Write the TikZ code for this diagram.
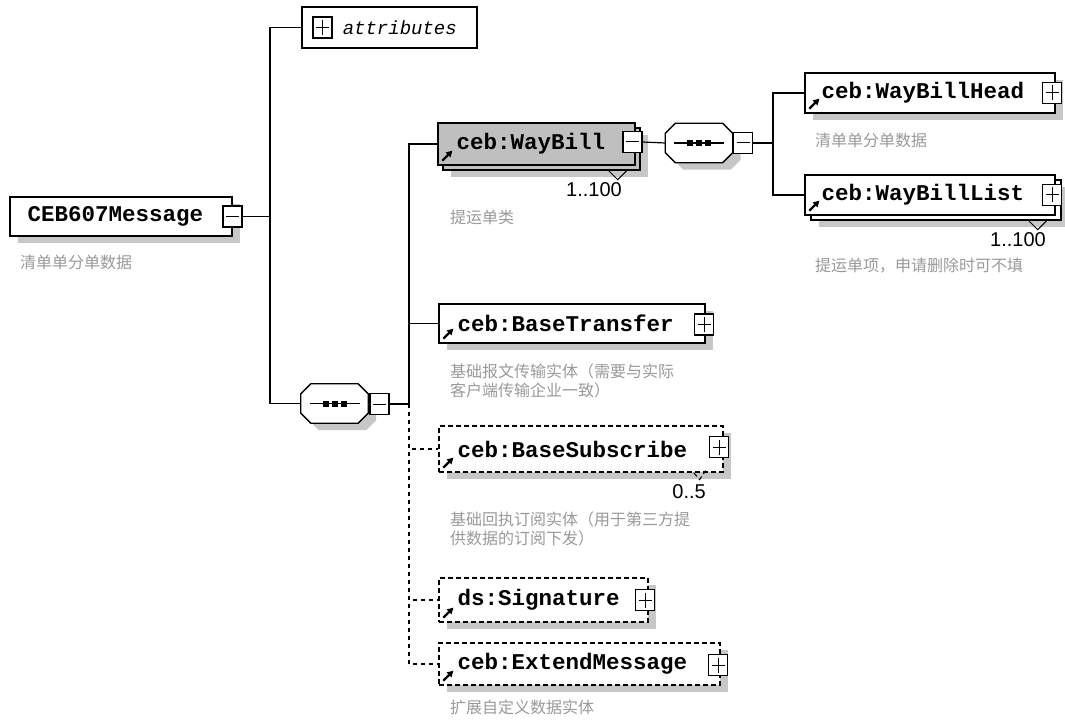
\documentclass[tikz,border=0pt]{standalone}
\usepackage{fontspec}
\setmonofont{Liberation Mono}
\newfontfamily\cjk{Noto Sans CJK SC}
\newfontfamily\numfont{Liberation Sans}
\usetikzlibrary{positioning,shadows,arrows.meta}

\begin{document}
\begin{tikzpicture}[x=1pt, y=-1pt,
    elem/.style = {draw, line width=1.3pt, fill=white, inner sep=0, drop shadow={shadow xshift=8pt, shadow yshift=-7pt, fill=black!22, opacity=1}},
    plain/.style = {draw, line width=1.3pt, fill=white, inner sep=0},
    opt/.style = {dash pattern=on 5pt off 3pt},
    seqbox/.style = {minimum width=67, minimum height=39, inner sep=0},
    signbox/.style = {draw, line width=1.1pt, fill=white, minimum width=19, minimum height=21, inner sep=0},
    minusbox/.style = {signbox,
        path picture={\draw[line width=1pt] ([xshift=3]path picture bounding box.west) -- ([xshift=-3]path picture bounding box.east);}},
    plusbox/.style = {signbox,
        path picture={\draw[line width=1pt] ([xshift=3]path picture bounding box.west) -- ([xshift=-3]path picture bounding box.east)
            ([yshift=-3]path picture bounding box.north) -- ([yshift=3]path picture bounding box.south);}},
    tag/.style = {font=\ttfamily\bfseries\fontsize{22.5}{24}\selectfont, inner sep=0},
    note/.style = {font=\cjk\fontsize{16}{19}\selectfont, text=black!40, inner sep=0, anchor=west, align=left},
    mult/.style = {font=\numfont\fontsize{20}{22}\selectfont, inner sep=0, anchor=east},
    line/.style = {line width=1.2pt},
    ref/.style = {-{Triangle[length=6pt,width=6.5pt]}, line width=2.2pt}]
    \useasboundingbox (0,0) rectangle (1065,722);
    % root element
    \node[elem, minimum width=222, minimum height=39] (ceb) at (121,216.5) {};
    \node[tag, right=18pt of ceb.west] (cebtxt) {CEB607Message};
    \node[minusbox] (cebmin) at (232.5,216.5) {};
    \node[note] (cebnote) at (20,262) {清单单分单数据};
    % attributes
    \node[plain, minimum width=175, minimum height=41] (attr) at (389.5,27.5) {};
    \node[plusbox] (attrplus) at (322.5,27.5) {};
    \node[tag, font=\ttfamily\itshape\fontsize{19}{21}\selectfont, right=10pt of attrplus] (attrtxt) {attributes};
    % sequences
    \node[seqbox] (seqa) at (334.5,403.5) {};
    \node[seqbox] (seqb) at (699,143) {};
    \foreach \s in {seqa,seqb} {
        \draw[line width=1.3pt, fill=white, drop shadow={shadow xshift=8pt, shadow yshift=-7pt, fill=black!22, opacity=1}]
            ([xshift=10]\s.north west) -- ([xshift=-10]\s.north east) -- ([yshift=-10]\s.north east)
            -- ([yshift=10]\s.south east) -- ([xshift=-10]\s.south east) -- ([xshift=10]\s.south west)
            -- ([yshift=10]\s.south west) -- ([yshift=-10]\s.north west) -- cycle;
        \draw[line] ([xshift=-25]\s.center) -- ([xshift=25]\s.center);
        \foreach \dx in {-9,0,9}
            \fill ([xshift=\dx-3, yshift=-3]\s.center) rectangle ([xshift=\dx+3, yshift=3]\s.center);
    }
    \node[minusbox] (seqamin) at (379.5,404) {};
    \node[minusbox] (seqbmin) at (743,143) {};
    % WayBill, 1..100
    \node[elem, fill=black!25, minimum width=197, minimum height=42] (wbback) at (541.5,149) {};
    \node[plain, fill=black!25, minimum width=197, minimum height=42] (waybill) at (536.5,144) {};
    \node[tag, right=19pt of waybill.west] (wbtxt) {ceb:WayBill};
    \node[minusbox] (wbmin) at (632.5,142) {};
    \draw[line width=1pt] ([xshift=-32]wbback.south east) -- ++(9,9) -- ++(9,-9);
    \node[mult] (wbmult) at (622,190) {1..100};
    \node[note] (wbnote) at (450,217) {提运单类};
    % WayBillHead
    \node[elem, minimum width=250, minimum height=40] (head) at (930,93) {};
    \node[tag, right=17pt of head.west] (headtxt) {ceb:WayBillHead};
    \node[plusbox] (headplus) at (1052,93) {};
    \node[note] (headnote) at (815,140) {清单单分单数据};
    % WayBillList, 1..100
    \node[elem, minimum width=250, minimum height=40] (listback) at (936,200) {};
    \node[plain, minimum width=250, minimum height=40] (list) at (930,195) {};
    \node[tag, right=17pt of list.west] (listtxt) {ceb:WayBillList};
    \node[plusbox] (listplus) at (1052,195) {};
    \draw[line width=1pt] ([xshift=-33]listback.south east) -- ++(9,9) -- ++(9,-9);
    \node[mult] (listmult) at (1046,240) {1..100};
    \node[note] (listnote) at (815,266) {提运单项，申请删除时可不填};
    % BaseTransfer
    \node[elem, minimum width=266, minimum height=39] (transfer) at (572,323.5) {};
    \node[tag, right=19pt of transfer.west] (trtxt) {ceb:BaseTransfer};
    \node[plusbox] (trplus) at (704,324.5) {};
    \node[note] (trnote) at (450,381) {基础报文传输实体（需要与实际\\客户端传输企业一致）};
    % BaseSubscribe, 0..5
    \node[elem, opt, minimum width=284, minimum height=46] (subscribe) at (581,449) {};
    \node[tag, right=19pt of subscribe.west] (subtxt) {ceb:BaseSubscribe};
    \node[plusbox] (subplus) at (719,447) {};
    \draw[line width=1pt, opt] ([xshift=-30]subscribe.south east) -- ++(6,7) -- ++(6,-9);
    \node[mult] (submult) at (706,492) {0..5};
    \node[note] (subnote) at (450,529) {基础回执订阅实体（用于第三方提\\供数据的订阅下发）};
    % Signature
    \node[elem, opt, minimum width=209, minimum height=44] (signature) at (543.5,600) {};
    \node[tag, right=19pt of signature.west] (sigtxt) {ds:Signature};
    \node[plusbox] (sigplus) at (645,600) {};
    % ExtendMessage
    \node[elem, opt, minimum width=281, minimum height=42] (extend) at (579.5,664) {};
    \node[tag, right=19pt of extend.west] (exttxt) {ceb:ExtendMessage};
    \node[plusbox] (extplus) at (718,665) {};
    \node[note] (extnote) at (450,707) {扩展自定义数据实体};
    % reference arrows
    \foreach \e in {waybill,head,list,transfer,subscribe,signature,extend}
        \draw[ref] ([xshift=5, yshift=5]\e.south west) -- ++(10,-10);
    % connectors
    \coordinate (ja) at (270,216.5);
    \coordinate (jb) at (409,404);
    \coordinate (jc) at (773,143);
    \draw[line] (cebmin.east) -- (ja);
    \draw[line] (attr.west) -| (ja) |- (seqa.west);
    \draw[line] (seqamin.east) -- (jb);
    \draw[line] (jb) |- (waybill.west);
    \draw[line] (jb) |- (transfer.west);
    \draw[line, dash pattern=on 4pt off 4pt] (jb) |- (subscribe.west);
    \draw[line, dash pattern=on 4pt off 4pt] (jb) |- (signature.west);
    \draw[line, dash pattern=on 4pt off 4pt] (jb) |- (extend.west);
    \draw[line] (wbmin.east) -- (seqb.west);
    \draw[line] (seqbmin.east) -- (jc);
    \draw[line] (head.west) -| (jc) |- (list.west);
\end{tikzpicture}
\end{document}
